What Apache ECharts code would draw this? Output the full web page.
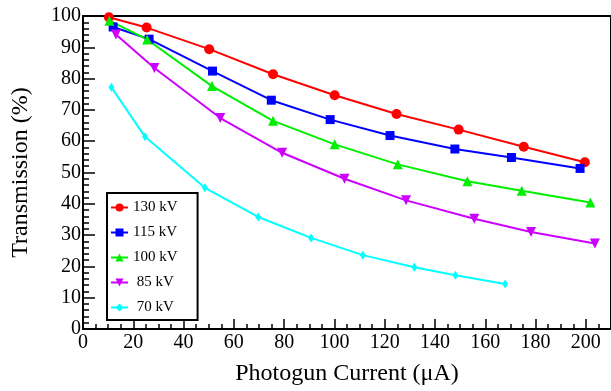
<!DOCTYPE html>
<html><head><meta charset="utf-8">
<script src="https://cdn.jsdelivr.net/npm/echarts@6/dist/echarts.min.js"></script>
<style>html,body{margin:0;padding:0;background:#fff}#c{width:611px;height:391px}</style>
</head><body><div id="c"></div>
<script>
const seriesNames = ['130 kV', '115 kV', '100 kV', ' 85 kV', ' 70 kV'];
const kv130 = [[10.3,99.6],[25.3,96.3],[50.2,89.4],[75.6,81.4],[100.1,74.7],[124.7,68.7],[149.4,63.7],[175.3,58.2],[199.6,53.3]];
const kv115 = [[12.0,96.5],[26.3,92.6],[51.5,82.4],[74.9,73.1],[98.3,66.9],[122.1,61.8],[147.9,57.5],[170.4,54.8],[197.7,51.3]];
const kv100 = [[10.5,98.5],[25.5,92.5],[51.3,77.6],[75.6,66.5],[100.1,59.0],[125.2,52.6],[152.9,47.2],[174.5,44.2],[201.8,40.4]];
const kv85  = [[13.1,94.1],[28.4,83.4],[54.6,67.4],[79.2,56.3],[104.0,48.0],[128.5,41.1],[155.6,35.2],[178.2,31.0],[203.6,27.3]];
const kv70  = [[11.3,77.2],[24.7,61.4],[48.5,45.1],[69.7,35.8],[90.7,29.1],[111.3,23.6],[131.8,19.7],[148.1,17.2],[167.9,14.4]];
const colors = ['#ff0000', '#0000ff', '#00ee00', '#cc00ff', '#00ffff'];
const symbols = ['circle', 'rect', 'triangle', 'path://M0,0 L10,0 L5,9 Z', 'diamond'];
const symbolSizes = [10, 9, 10, 10, [6, 9]];
const allData = [kv130, kv115, kv100, kv85, kv70];

const font = 'Liberation Serif';
const chart = echarts.init(document.getElementById('c'), null, {renderer: 'canvas'});
chart.setOption({
  animation: false,
  grid: {left: 83, top: 16, width: 530, height: 319, show: true, borderColor: '#000', borderWidth: 2, backgroundColor: 'transparent'},
  xAxis: {
    type: 'value', min: 0, max: 210, interval: 20,
    name: 'Photogun Current (\u03bcA)', nameLocation: 'middle', nameGap: 33,
    nameTextStyle: {fontFamily: font, fontSize: 24, color: '#000'},
    axisLine: {show: true, lineStyle: {color: '#000', width: 2}},
    axisTick: {show: true, inside: true, length: 10, lineStyle: {color: '#000', width: 1.5}},
    minorTick: {show: true, splitNumber: 4, length: 5, lineStyle: {color: '#000', width: 1.5}},
    axisLabel: {fontFamily: font, fontSize: 20, color: '#000', margin: 4, showMaxLabel: false},
    splitLine: {show: false}
  },
  yAxis: {
    type: 'value', min: 0, max: 100, interval: 10,
    name: 'Transmission (%)', nameLocation: 'middle', nameGap: 50,
    nameTextStyle: {fontFamily: font, fontSize: 24, color: '#000'},
    axisLine: {show: true, lineStyle: {color: '#000', width: 2}},
    axisTick: {show: true, inside: true, length: 12, lineStyle: {color: '#000', width: 1.5}},
    minorTick: {show: true, splitNumber: 5, length: 6, lineStyle: {color: '#000', width: 1.5}},
    axisLabel: {fontFamily: font, fontSize: 20, color: '#000', margin: 2},
    splitLine: {show: false}
  },
  legend: {
    orient: 'vertical', left: 107, top: 193,
    data: seriesNames,
    borderColor: '#000', borderWidth: 2, padding: [7, 20, 5, 3],
    itemWidth: 17, itemHeight: 10, itemGap: 10,
    textStyle: {fontFamily: font, fontSize: 15, lineHeight: 14, color: '#000'}
  },
  series: seriesNames.map((n, i) => ({
    name: n, type: 'line', data: allData[i],
    symbol: symbols[i], symbolSize: symbolSizes[i],
    lineStyle: {color: colors[i], width: 2},
    itemStyle: {color: colors[i]},
    color: colors[i]
  }))
});
</script></body></html>
